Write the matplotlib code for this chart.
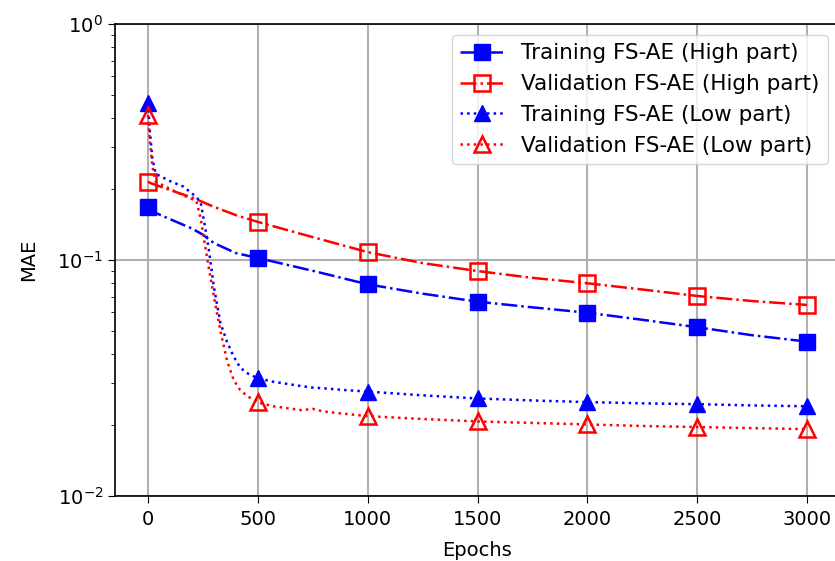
import numpy as np
import matplotlib
matplotlib.use('Agg')
import matplotlib.pyplot as plt

#%% values (log-scale MAE per epoch)
marker_epochs = [0, 500, 1000, 1500, 2000, 2500, 3000]

# FS-AE high part
epochs_high = [0, 10, 100, 200, 250, 300, 400, 500, 750, 1000, 1250, 1500,
               1750, 2000, 2250, 2500, 2750, 3000]
train_high = [0.168, 0.162, 0.149, 0.136, 0.128, 0.118, 0.107, 0.102, 0.090,
              0.0789, 0.072, 0.0666, 0.063, 0.0598, 0.0558, 0.0519, 0.048, 0.0451]
val_high = [0.215, 0.212, 0.198, 0.184, 0.176, 0.168, 0.155, 0.145, 0.125,
            0.108, 0.097, 0.0898, 0.084, 0.0797, 0.075, 0.0704, 0.067, 0.0645]

# FS-AE low part
epochs_low = [0, 10, 20, 35, 100, 160, 220, 240, 260, 275, 300, 330, 360, 390,
              420, 450, 500, 570, 700, 750, 800, 875, 1000, 1250, 1500, 1750,
              2000, 2250, 2500, 2750, 3000]
train_low = [0.461, 0.34, 0.27, 0.232, 0.216, 0.205, 0.185, 0.175, 0.138, 0.114,
             0.077, 0.054, 0.045, 0.039, 0.035, 0.0332, 0.0315, 0.0305, 0.0292,
             0.0288, 0.0286, 0.0282, 0.0277, 0.0267, 0.0259, 0.0254, 0.0250,
             0.0247, 0.0245, 0.0242, 0.0240]
val_low = [0.411, 0.31, 0.25, 0.215, 0.200, 0.188, 0.178, 0.150, 0.115, 0.095,
           0.070, 0.050, 0.0375, 0.031, 0.0281, 0.0266, 0.0249, 0.0240, 0.0231,
           0.0234, 0.0228, 0.0224, 0.0218, 0.0212, 0.0207, 0.0204, 0.0201,
           0.0198, 0.0196, 0.0194, 0.0192]

labels = ['Training FS-AE (High part)', 'Validation FS-AE (High part)',
          'Training FS-AE (Low part)', 'Validation FS-AE (Low part)']

#%% plot
plt.rcParams['font.size'] = 14
plt.rcParams['xtick.major.size'] = 5
plt.rcParams['ytick.major.size'] = 5
plt.rcParams['ytick.minor.size'] = 3
plt.rcParams['xtick.major.pad'] = 5
plt.rcParams['axes.linewidth'] = 1.2

fig = plt.figure(figsize=(8.35, 5.61), dpi=100)
ax = fig.add_axes([115/835, 65/561, 725/835, 472/561])

def marks(ep):
    # indices of the points drawn with a marker (every 500 epochs)
    return [ep.index(e) for e in marker_epochs]

ax.plot(epochs_high, train_high, '-.', color='blue', lw=1.8, marker='s', ms=12,
        markevery=marks(epochs_high), label=labels[0])
ax.plot(epochs_high, val_high, '-.', color='red', lw=1.8, marker='s', ms=12,
        mfc='none', mew=1.8, markevery=marks(epochs_high), label=labels[1])
ax.plot(epochs_low, train_low, ':', color='blue', lw=1.8, marker='^', ms=12,
        markevery=marks(epochs_low), label=labels[2])
ax.plot(epochs_low, val_low, ':', color='red', lw=1.8, marker='^', ms=12,
        mfc='none', mew=1.8, markevery=marks(epochs_low), label=labels[3])

ax.set_yscale('log')
ax.set_ylim(1e-2, 1)
ax.set_xlim(-150, 3150)
ax.set_xticks(marker_epochs)
ax.set_xlabel('Epochs', labelpad=9)
ax.set_ylabel('MAE', labelpad=14)
ax.grid(True, which='major', color='#b0b0b0', lw=1.5)
ax.legend(loc='upper right', bbox_to_anchor=(0.983, 0.977), fontsize=15.5,
          handlelength=2.0, borderaxespad=0)

fig.savefig('out.png', dpi=100)
